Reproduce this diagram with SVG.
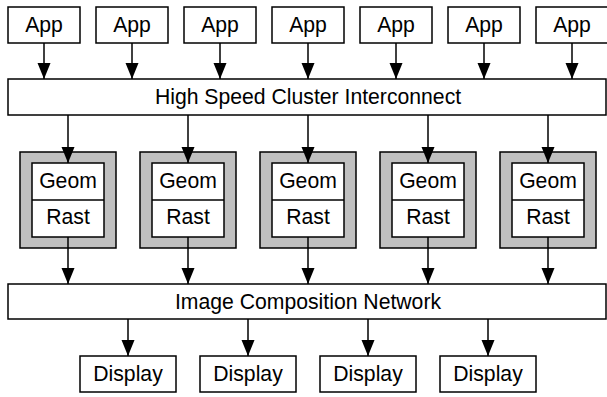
<svg xmlns="http://www.w3.org/2000/svg" width="607" height="397" viewBox="0 0 607 397">
<style>
.box{fill:#fff;stroke:#000;stroke-width:1.5}
.gray{fill:#c0c0c0;stroke:#000;stroke-width:1.5}
.t{font-family:"Liberation Sans",Arial,sans-serif;font-size:21.2px;fill:#000;text-anchor:middle}
.c{stroke:#000;stroke-width:1.5;fill:none;marker-end:url(#ah)}
</style>
<defs>
<marker id="ah" markerUnits="userSpaceOnUse" markerWidth="17" markerHeight="14" refX="16" refY="6.5" orient="auto">
<path d="M0,0 L16,6.5 L0,13 Z" fill="#000"/>
</marker>
</defs>
<rect width="607" height="397" fill="#fff"/>
<g id="app1"><rect class="box" x="8" y="7" width="72" height="36"/><text class="t" x="44" y="32">App</text></g>
<g id="app2"><rect class="box" x="96" y="7" width="72" height="36"/><text class="t" x="132" y="32">App</text></g>
<g id="app3"><rect class="box" x="184" y="7" width="72" height="36"/><text class="t" x="220" y="32">App</text></g>
<g id="app4"><rect class="box" x="272" y="7" width="72" height="36"/><text class="t" x="308" y="32">App</text></g>
<g id="app5"><rect class="box" x="360" y="7" width="72" height="36"/><text class="t" x="396" y="32">App</text></g>
<g id="app6"><rect class="box" x="448" y="7" width="72" height="36"/><text class="t" x="484" y="32">App</text></g>
<g id="app7"><rect class="box" x="536" y="7" width="72" height="36"/><text class="t" x="572" y="32">App</text></g>
<g id="interconnect"><rect class="box" x="8" y="79" width="598" height="36"/><text class="t" x="308" y="104">High Speed Cluster Interconnect</text></g>
<g id="node1"><rect class="gray" x="20" y="152" width="96" height="96"/><rect class="box" x="32" y="163" width="72" height="74"/><line x1="32" y1="200" x2="104" y2="200" stroke="#000" stroke-width="1.5"/><text class="t" x="68" y="188">Geom</text><text class="t" x="68" y="224">Rast</text></g>
<g id="node2"><rect class="gray" x="140" y="152" width="96" height="96"/><rect class="box" x="152" y="163" width="72" height="74"/><line x1="152" y1="200" x2="224" y2="200" stroke="#000" stroke-width="1.5"/><text class="t" x="188" y="188">Geom</text><text class="t" x="188" y="224">Rast</text></g>
<g id="node3"><rect class="gray" x="260" y="152" width="96" height="96"/><rect class="box" x="272" y="163" width="72" height="74"/><line x1="272" y1="200" x2="344" y2="200" stroke="#000" stroke-width="1.5"/><text class="t" x="308" y="188">Geom</text><text class="t" x="308" y="224">Rast</text></g>
<g id="node4"><rect class="gray" x="380" y="152" width="96" height="96"/><rect class="box" x="392" y="163" width="72" height="74"/><line x1="392" y1="200" x2="464" y2="200" stroke="#000" stroke-width="1.5"/><text class="t" x="428" y="188">Geom</text><text class="t" x="428" y="224">Rast</text></g>
<g id="node5"><rect class="gray" x="500" y="152" width="96" height="96"/><rect class="box" x="512" y="163" width="72" height="74"/><line x1="512" y1="200" x2="584" y2="200" stroke="#000" stroke-width="1.5"/><text class="t" x="548" y="188">Geom</text><text class="t" x="548" y="224">Rast</text></g>
<g id="composition"><rect class="box" x="8" y="284" width="598" height="35"/><text class="t" x="308" y="309">Image Composition Network</text></g>
<g id="display1"><rect class="box" x="80" y="356" width="96" height="36"/><text class="t" x="128" y="381">Display</text></g>
<g id="display2"><rect class="box" x="200" y="356" width="96" height="36"/><text class="t" x="248" y="381">Display</text></g>
<g id="display3"><rect class="box" x="320" y="356" width="96" height="36"/><text class="t" x="368" y="381">Display</text></g>
<g id="display4"><rect class="box" x="440" y="356" width="96" height="36"/><text class="t" x="488" y="381">Display</text></g>
<g id="connectors">
<line class="c" x1="44" y1="43" x2="44" y2="79"/>
<line class="c" x1="132" y1="43" x2="132" y2="79"/>
<line class="c" x1="220" y1="43" x2="220" y2="79"/>
<line class="c" x1="308" y1="43" x2="308" y2="79"/>
<line class="c" x1="396" y1="43" x2="396" y2="79"/>
<line class="c" x1="484" y1="43" x2="484" y2="79"/>
<line class="c" x1="572" y1="43" x2="572" y2="79"/>
<line class="c" x1="68" y1="115" x2="68" y2="163"/>
<line class="c" x1="188" y1="115" x2="188" y2="163"/>
<line class="c" x1="308" y1="115" x2="308" y2="163"/>
<line class="c" x1="428" y1="115" x2="428" y2="163"/>
<line class="c" x1="548" y1="115" x2="548" y2="163"/>
<line class="c" x1="68" y1="237" x2="68" y2="284"/>
<line class="c" x1="188" y1="237" x2="188" y2="284"/>
<line class="c" x1="308" y1="237" x2="308" y2="284"/>
<line class="c" x1="428" y1="237" x2="428" y2="284"/>
<line class="c" x1="548" y1="237" x2="548" y2="284"/>
<line class="c" x1="128" y1="319" x2="128" y2="356"/>
<line class="c" x1="248" y1="319" x2="248" y2="356"/>
<line class="c" x1="368" y1="319" x2="368" y2="356"/>
<line class="c" x1="488" y1="319" x2="488" y2="356"/>
</g>
</svg>
